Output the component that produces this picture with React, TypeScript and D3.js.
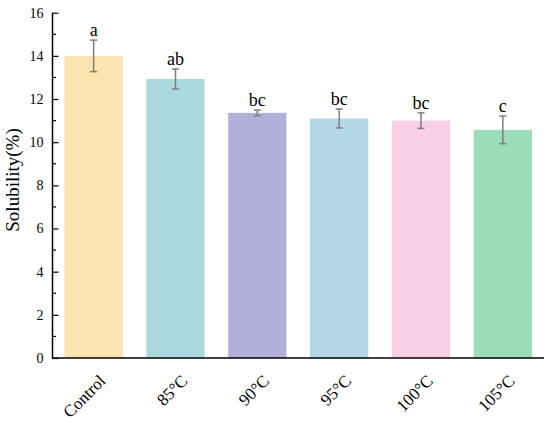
import React, { useEffect, useRef } from 'react';
import * as d3 from 'd3';

const categories = ['Control', '85°C', '90°C', '95°C', '100°C', '105°C'];
const means = [14.0, 12.93, 11.36, 11.1, 11.0, 10.57];
const errors = [0.73, 0.46, 0.13, 0.44, 0.36, 0.64];
const letters = ['a', 'ab', 'bc', 'bc', 'bc', 'c'];
const colors = ['#FCE4B0', '#A9D9DD', '#B0B0D9', '#B5D8E8', '#F8CFE4', '#9BDDB6'];
const yTicks = [0, 2, 4, 6, 8, 10, 12, 14, 16];

const App = () => {
  const ref = useRef<SVGSVGElement>(null);

  useEffect(() => {
    if (!ref.current) return;
    const svg = d3.select(ref.current);
    svg.selectAll('*').remove();

    const left = 52.5;
    const right = 544;
    const top = 12.7;
    const bottom = 358;
    const font = '"Liberation Serif", "Times New Roman", serif';

    const x = d3.scaleBand<string>()
      .domain(categories)
      .range([left, right])
      .paddingInner(0.288)
      .paddingOuter(0.147);

    const y = d3.scaleLinear().domain([0, 16]).range([bottom, top]);

    // bars
    svg.append('g')
      .selectAll('rect')
      .data(categories)
      .enter()
      .append('rect')
      .attr('x', d => x(d)!)
      .attr('width', x.bandwidth())
      .attr('y', (d, i) => y(means[i]))
      .attr('height', (d, i) => y(0) - y(means[i]))
      .attr('fill', (d, i) => colors[i]);

    // error bars + significance letters
    const eb = svg.append('g')
      .attr('stroke', '#7d7d7d')
      .attr('stroke-width', 1.5);
    categories.forEach((c, i) => {
      const cx = x(c)! + x.bandwidth() / 2;
      const hi = y(means[i] + errors[i]);
      const lo = y(means[i] - errors[i]);
      eb.append('line').attr('x1', cx).attr('x2', cx).attr('y1', hi).attr('y2', lo);
      eb.append('line').attr('x1', cx - 3.5).attr('x2', cx + 3.5).attr('y1', hi).attr('y2', hi);
      eb.append('line').attr('x1', cx - 3.5).attr('x2', cx + 3.5).attr('y1', lo).attr('y2', lo);
      svg.append('text')
        .attr('x', cx)
        .attr('y', hi - 4)
        .attr('text-anchor', 'middle')
        .style('font-family', font)
        .style('font-size', '18px')
        .attr('fill', '#000')
        .text(letters[i]);
    });

    // y axis, ticks pointing inward
    const yAxis = svg.append('g')
      .attr('transform', `translate(${left},0)`)
      .call(d3.axisLeft(y).tickValues(yTicks).tickSize(-6).tickPadding(9).tickFormat(d3.format('d')));
    yAxis.select('.domain').remove();
    yAxis.selectAll('.tick line').attr('stroke', '#000').attr('stroke-width', 1.2);
    yAxis.selectAll('.tick text')
      .style('font-family', font)
      .style('font-size', '14px')
      .attr('fill', '#000');

    svg.append('line')
      .attr('x1', left)
      .attr('x2', left)
      .attr('y1', top)
      .attr('y2', bottom)
      .attr('stroke', '#000')
      .attr('stroke-width', 1.5);

    // minor ticks
    svg.append('g')
      .selectAll('line')
      .data(d3.range(1, 16, 2))
      .enter()
      .append('line')
      .attr('x1', left)
      .attr('x2', left + 3.5)
      .attr('y1', d => y(d))
      .attr('y2', d => y(d))
      .attr('stroke', '#000')
      .attr('stroke-width', 1.2);

    // x axis
    svg.append('line')
      .attr('x1', left - 0.75)
      .attr('x2', right)
      .attr('y1', bottom)
      .attr('y2', bottom)
      .attr('stroke', '#000')
      .attr('stroke-width', 1.5);

    svg.append('g')
      .selectAll('text')
      .data(categories)
      .enter()
      .append('text')
      .attr('transform', d => `translate(${x(d)! + x.bandwidth() / 2 + 13},${bottom + 24}) rotate(-45)`)
      .attr('text-anchor', 'end')
      .style('font-family', font)
      .style('font-size', '17px')
      .attr('fill', '#000')
      .text(d => d);

    // y label
    svg.append('text')
      .attr('transform', `translate(19,180) rotate(-90)`)
      .attr('text-anchor', 'middle')
      .style('font-family', font)
      .style('font-size', '19px')
      .attr('fill', '#000')
      .text('Solubility(%)');
  }, []);

  return (
    <svg
      ref={ref}
      width={550}
      height={422}
      style={{ position: 'absolute', left: 0, top: 0, background: '#fff' }}
    />
  );
};

export default App;
